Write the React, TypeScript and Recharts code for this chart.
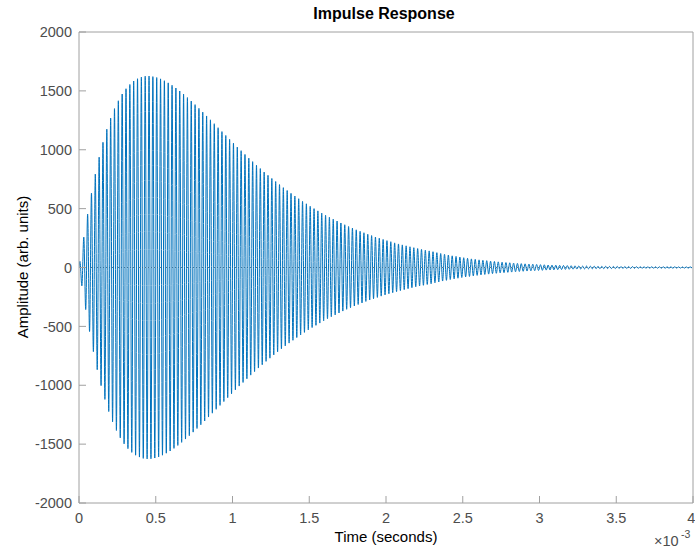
import { LineChart, Line, XAxis, YAxis, ReferenceLine } from 'recharts';

// one oscillation cycle (40 kHz)
const CYCLE = 25e-6;

// positive peak height of each cycle
const peakAmps = [
  52, 258, 453, 632, 794, 937, 1063, 1174, 1268, 1349, 1416, 1473, 1518, 1554, 1583, 1603,
  1616, 1624, 1625, 1621, 1613, 1602, 1586, 1568, 1547, 1524, 1499, 1472, 1443, 1413, 1383, 1351,
  1319, 1287, 1254, 1221, 1187, 1154, 1121, 1088, 1056, 1023, 992, 960, 929, 899, 869, 840,
  811, 783, 756, 730, 704, 678, 654, 630, 607, 584, 562, 541, 520, 500, 481, 462,
  444, 427, 410, 394, 378, 363, 348, 334, 320, 307, 295, 282, 271, 259, 249, 238,
  228, 219, 209, 200, 192, 184, 176, 168, 161, 154, 147, 141, 134, 126, 119, 112,
  106, 99, 94, 88, 83, 78, 73, 69, 65, 61, 58, 54, 51, 48, 45, 42,
  40, 37, 35, 33, 31, 29, 28, 26, 24, 23, 21, 20, 19, 18, 17, 16,
  15, 14, 13, 12, 12, 11, 11, 10, 10, 10, 9, 9, 9, 8, 8, 8,
  8, 7, 7, 7, 7, 7, 6, 6, 6, 6, 6, 6, 5, 5, 5, 5,
];

// depth of each trough (half a cycle later)
const troughAmps = [
  156, 357, 544, 715, 868, 1003, 1120, 1223, 1310, 1384, 1446, 1497, 1538, 1570, 1594, 1610,
  1621, 1625, 1624, 1618, 1608, 1594, 1577, 1558, 1536, 1511, 1485, 1457, 1428, 1398, 1367, 1335,
  1303, 1270, 1237, 1204, 1171, 1138, 1105, 1072, 1039, 1007, 976, 945, 914, 884, 854, 826,
  797, 770, 743, 717, 691, 666, 642, 618, 595, 573, 551, 530, 510, 491, 472, 453,
  435, 418, 402, 386, 370, 355, 341, 327, 314, 301, 288, 276, 265, 254, 243, 233,
  223, 214, 205, 196, 188, 180, 172, 164, 157, 151, 144, 138, 130, 123, 115, 109,
  102, 96, 91, 85, 80, 76, 71, 67, 63, 59, 56, 52, 49, 46, 44, 41,
  39, 36, 34, 32, 30, 28, 27, 25, 24, 22, 21, 20, 18, 17, 16, 15,
  14, 13, 13, 12, 11, 11, 10, 10, 10, 9, 9, 9, 8, 8, 8, 8,
  7, 7, 7, 7, 7, 6, 6, 6, 6, 6, 6, 5, 5, 5, 5, 5,
];

const timeTicks = [0, 0.0005, 0.001, 0.0015, 0.002, 0.0025, 0.003, 0.0035, 0.004];
const ampTicks = [-2000, -1500, -1000, -500, 0, 500, 1000, 1500, 2000];

const data: Array<{ t: number; v: number }> = [{ t: 0, v: 0 }];
peakAmps.forEach((p, k) => {
  data.push({ t: (k + 0.25) * CYCLE, v: p });
  data.push({ t: (k + 0.75) * CYCLE, v: -troughAmps[k] });
});

const FONT = '"Liberation Sans", Arial, Helvetica, sans-serif';
const AXIS = '#a0a0a0';
const tickStyle = { fontSize: 14.5, fill: '#4d4d4d', fontFamily: FONT };

export default function App() {
  return (
    <div
      style={{
        position: 'absolute',
        left: 0,
        top: 0,
        width: 695,
        height: 552,
        background: '#fff',
        fontFamily: FONT,
        overflow: 'hidden',
      }}
    >
      <LineChart width={695} height={552} data={data} margin={{ top: 31, right: 1, bottom: 0, left: 0 }}>
        <XAxis
          xAxisId="b"
          dataKey="t"
          type="number"
          domain={[0, 0.004]}
          ticks={timeTicks}
          allowDataOverflow
          height={49}
          stroke={AXIS}
          tickSize={-7}
          tickMargin={17}
          tick={tickStyle}
          tickFormatter={(v: number) => String(Math.round(v * 1e4) / 10)}
        />
        <XAxis
          xAxisId="top"
          orientation="top"
          type="number"
          domain={[0, 0.004]}
          ticks={timeTicks}
          allowDataOverflow
          height={1}
          stroke={AXIS}
          tickSize={-7}
          tick={false}
        />
        <YAxis
          yAxisId="l"
          type="number"
          domain={[-2000, 2000]}
          ticks={ampTicks}
          allowDataOverflow
          width={79}
          stroke={AXIS}
          tickSize={-7}
          tickMargin={14}
          tick={tickStyle}
        />
        <YAxis
          yAxisId="r"
          orientation="right"
          type="number"
          domain={[-2000, 2000]}
          ticks={ampTicks}
          allowDataOverflow
          width={1}
          stroke={AXIS}
          tickSize={-7}
          tick={false}
        />
        <ReferenceLine xAxisId="b" yAxisId="l" y={0} stroke="#555" strokeDasharray="1 2" strokeWidth={0.8} />
        <Line
          xAxisId="b"
          yAxisId="l"
          dataKey="v"
          type="monotone"
          stroke="#0072BD"
          strokeWidth={1}
          dot={false}
          isAnimationActive={false}
        />
      </LineChart>

      <div style={{ position: 'absolute', left: 384, top: 14, transform: 'translate(-50%, -50%)', fontSize: 16, fontWeight: 'bold', color: '#000', whiteSpace: 'nowrap', lineHeight: 1 }}>
        Impulse Response
      </div>
      <div style={{ position: 'absolute', left: 386, top: 536, transform: 'translate(-50%, -50%)', fontSize: 15, color: '#000', whiteSpace: 'nowrap', lineHeight: 1 }}>
        Time (seconds)
      </div>
      <div style={{ position: 'absolute', left: 22, top: 267, transform: 'translate(-50%, -50%) rotate(-90deg)', fontSize: 15, color: '#000', whiteSpace: 'nowrap', lineHeight: 1 }}>
        Amplitude (arb. units)
      </div>
      <div style={{ position: 'absolute', left: 654, top: 534, fontSize: 14.5, color: '#4d4d4d', whiteSpace: 'nowrap', lineHeight: 1 }}>
        ×10
      </div>
      <div style={{ position: 'absolute', left: 681, top: 529, fontSize: 10.5, color: '#4d4d4d', whiteSpace: 'nowrap', lineHeight: 1 }}>
        -3
      </div>
    </div>
  );
}
